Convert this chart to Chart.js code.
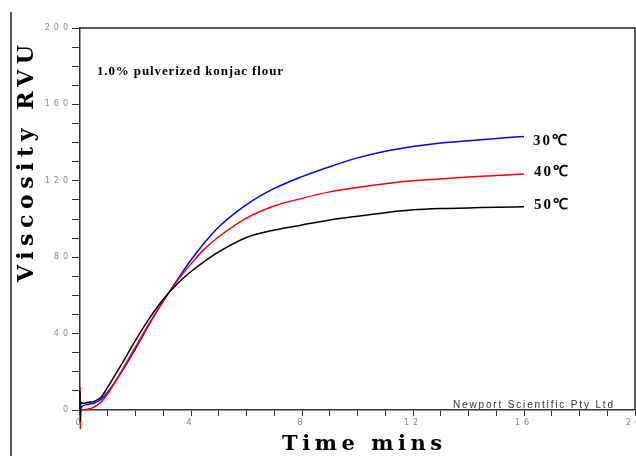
<!DOCTYPE html>
<html>
<head>
<meta charset="utf-8">
<script src="https://cdn.jsdelivr.net/npm/chart.js@4"></script>
<style>
  html, body { margin: 0; padding: 0; background: #fff; }
  #wrap { position: relative; width: 636px; height: 456px; }
</style>
</head>
<body>
<div id="wrap"><canvas id="rvu" width="636" height="456"></canvas></div>
<script>
'use strict';

// Readings (time in minutes, viscosity in RVU)
const time30 = [0, 0.05, 0.3, 0.5, 0.75, 1, 1.5, 2, 2.5, 3, 3.5, 4, 4.5, 5, 6, 7, 8, 9, 10, 11, 12, 13, 14, 15, 16];
const visc30 = [0, 1.5, 3, 3.5, 5.5, 9.5, 20, 32, 45, 57, 68, 78.5, 87.8, 95.8, 107.5, 116, 122.2, 127.4, 132, 135.5, 138, 139.8, 141, 142.2, 143.2];

const time40 = [0, 0.01, 0.03, 0.1, 0.3, 0.5, 0.75, 1, 1.5, 2, 2.5, 3, 3.5, 4, 4.5, 5, 6, 7, 8, 9, 10, 11, 12, 13, 14, 15, 16];
const visc40 = [12, -10, 0, 0, 0.5, 1.5, 4, 8.5, 20.5, 33, 45.5, 57, 67.5, 76.5, 84.5, 90.7, 100.5, 106.8, 110.8, 114.2, 116.5, 118.5, 120, 121, 122, 122.8, 123.6];

const time50 = [0, 0.01, 0.03, 0.1, 0.3, 0.5, 0.75, 1, 1.5, 2, 2.5, 3, 3.5, 4, 4.5, 5, 6, 7, 8, 9, 10, 11, 12, 13, 14, 15, 16];
const visc50 = [10, -6, 4, 3.5, 4, 4.5, 6.5, 12, 24, 36.5, 48, 58, 66, 72.5, 78, 82.8, 90.3, 94.2, 96.9, 99.5, 101.5, 103.3, 104.8, 105.5, 105.8, 106.2, 106.4];

const seriesLabels = ['30\u2103', '40\u2103', '50\u2103'];
const yTicksMajor = [0, 40, 80, 120, 160, 200];
const xTicksMajor = [0, 4, 8, 12, 16, 20];

const chartTitle = '1.0% pulverized konjac flour';
const yTitle = 'Viscosity RVU';
const xTitle = 'Time mins';
const maker = 'Newport Scientific Pty Ltd';

const pairs = (xs, ys) => xs.map((x, i) => ({ x, y: ys[i] }));

// letter-spaced text so the stretched look of the original comes through
function spacedText(ctx, text, x, y, width) {
  ctx.letterSpacing = '0px';
  const w = ctx.measureText(text).width;
  const n = Math.max(1, [...text].length - 1);
  const ls = Math.max(0, (width - w) / n);
  ctx.letterSpacing = ls + 'px';
  ctx.textAlign = 'left';
  ctx.fillText(text, x, y);
  ctx.letterSpacing = '0px';
}

const decorPlugin = {
  id: 'decor',
  beforeDraw(chart) {
    const ctx = chart.ctx;
    ctx.fillStyle = '#fff';
    ctx.fillRect(0, 0, chart.width, chart.height);
    // stretch the tick labels a little
    ctx.letterSpacing = '4px';
  },
  afterDraw(chart) {
    const ctx = chart.ctx;
    const a = chart.chartArea;
    ctx.letterSpacing = '0px';
    ctx.save();

    // frame top + right
    ctx.strokeStyle = '#222';
    ctx.lineWidth = 1.5;
    ctx.beginPath();
    ctx.moveTo(a.left, a.top);
    ctx.lineTo(a.right, a.top);
    ctx.lineTo(a.right, a.bottom);
    ctx.stroke();

    // outer page line at left
    ctx.beginPath();
    ctx.moveTo(11, 12);
    ctx.lineTo(11, 456);
    ctx.stroke();

    ctx.fillStyle = '#000';
    ctx.textBaseline = 'alphabetic';

    ctx.font = 'bold 13px "Liberation Serif"';
    spacedText(ctx, chartTitle, 97, 75, 186);

    ctx.font = 'bold 15px "Liberation Serif"';
    spacedText(ctx, seriesLabels[0], 533, 145, 34);
    spacedText(ctx, seriesLabels[1], 534, 176, 34);
    spacedText(ctx, seriesLabels[2], 534, 209, 34);

    ctx.font = 'bold 21px "DejaVu Serif"';
    spacedText(ctx, xTitle, 282, 450, 160);

    ctx.save();
    ctx.translate(33, 282);
    ctx.rotate(-Math.PI / 2);
    ctx.font = 'bold 22px "DejaVu Serif"';
    spacedText(ctx, yTitle, 0, 0, 237);
    ctx.restore();

    ctx.fillStyle = '#333';
    ctx.font = '10px "Liberation Sans"';
    spacedText(ctx, maker, 453, 408, 160);

    ctx.restore();
  }
};

new Chart(document.getElementById('rvu'), {
  type: 'line',
  data: {
    datasets: [
      { label: seriesLabels[2], data: pairs(time50, visc50), borderColor: '#000000' },
      { label: seriesLabels[1], data: pairs(time40, visc40), borderColor: '#ff0000' },
      { label: seriesLabels[0], data: pairs(time30, visc30), borderColor: '#0000ff' }
    ]
  },
  options: {
    responsive: false,
    animation: false,
    layout: { padding: { top: 28, right: 1, left: 0, bottom: 0 } },
    datasets: {
      line: {
        borderWidth: 1.5,
        pointRadius: 0,
        cubicInterpolationMode: 'monotone',
        clip: false
      }
    },
    plugins: { legend: { display: false }, tooltip: { enabled: false } },
    scales: {
      x: {
        type: 'linear',
        min: 0,
        max: 20,
        afterFit(s) { s.height = 46; s.paddingLeft = 0; s.paddingRight = 0; },
        border: { color: '#333', width: 1.5 },
        grid: { drawOnChartArea: false, tickLength: 6, tickColor: '#333', tickWidth: 1 },
        ticks: {
          stepSize: 1,
          autoSkip: false,
          maxRotation: 0,
          padding: 2,
          color: '#888',
          font: { family: 'DejaVu Sans', size: 8 },
          callback: v => (xTicksMajor.includes(v) ? String(v) : '')
        }
      },
      y: {
        type: 'linear',
        min: 0,
        max: 200,
        afterFit(s) { s.width = 80; s.paddingTop = 0; s.paddingBottom = 0; },
        border: { color: '#333', width: 1.5 },
        grid: { drawOnChartArea: false, tickLength: 8, tickColor: '#333', tickWidth: 1 },
        ticks: {
          stepSize: 10,
          autoSkip: false,
          padding: 0,
          color: '#888',
          font: { family: 'DejaVu Sans', size: 8 },
          callback: v => (yTicksMajor.includes(v) ? String(v) : '')
        }
      }
    }
  },
  plugins: [decorPlugin]
});
</script>
</body>
</html>
